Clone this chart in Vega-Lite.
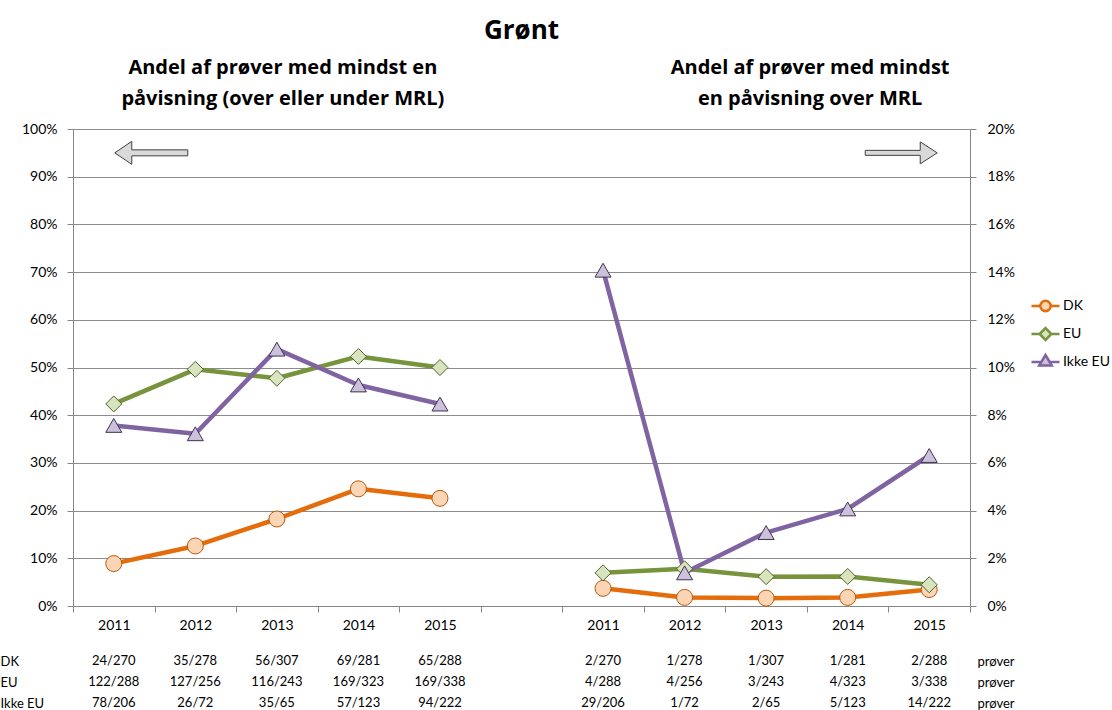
{
  "$schema": "https://vega.github.io/schema/vega-lite/v6.json",
  "background": "white",
  "padding": {"left": 0, "top": 18, "right": 0, "bottom": 0},
  "config": {
    "font": "Lato",
    "view": {"stroke": null},
    "axis": {"labelColor": "#000000", "labelFont": "Lato"},
    "legend": {"labelFont": "Lato", "labelColor": "#000000"}
  },
  "title": {"text": "Grønt", "fontSize": 26, "fontWeight": "bold", "anchor": "middle", "frame": "group", "offset": 13, "color": "#000000", "font": "Open Sans"},
  "datasets": {
    "venstre": [
      {"slot": "L2011", "series": "DK", "value": 0.0889},
      {"slot": "L2012", "series": "DK", "value": 0.1259},
      {"slot": "L2013", "series": "DK", "value": 0.1824},
      {"slot": "L2014", "series": "DK", "value": 0.2456},
      {"slot": "L2015", "series": "DK", "value": 0.2257},
      {"slot": "L2011", "series": "EU", "value": 0.4236},
      {"slot": "L2012", "series": "EU", "value": 0.4961},
      {"slot": "L2013", "series": "EU", "value": 0.4774},
      {"slot": "L2014", "series": "EU", "value": 0.5232},
      {"slot": "L2015", "series": "EU", "value": 0.5},
      {"slot": "L2011", "series": "Ikke EU", "value": 0.3786},
      {"slot": "L2012", "series": "Ikke EU", "value": 0.3611},
      {"slot": "L2013", "series": "Ikke EU", "value": 0.5385},
      {"slot": "L2014", "series": "Ikke EU", "value": 0.4634},
      {"slot": "L2015", "series": "Ikke EU", "value": 0.4234}
    ],
    "hoejre": [
      {"slot": "R2011", "series": "DK", "value": 0.0074},
      {"slot": "R2012", "series": "DK", "value": 0.0036},
      {"slot": "R2013", "series": "DK", "value": 0.0033},
      {"slot": "R2014", "series": "DK", "value": 0.0036},
      {"slot": "R2015", "series": "DK", "value": 0.0069},
      {"slot": "R2011", "series": "EU", "value": 0.0139},
      {"slot": "R2012", "series": "EU", "value": 0.0156},
      {"slot": "R2013", "series": "EU", "value": 0.0123},
      {"slot": "R2014", "series": "EU", "value": 0.0124},
      {"slot": "R2015", "series": "EU", "value": 0.0089},
      {"slot": "R2011", "series": "Ikke EU", "value": 0.1408},
      {"slot": "R2012", "series": "Ikke EU", "value": 0.0139},
      {"slot": "R2013", "series": "Ikke EU", "value": 0.0308},
      {"slot": "R2014", "series": "Ikke EU", "value": 0.0407},
      {"slot": "R2015", "series": "Ikke EU", "value": 0.0631}
    ],
    "tabel": [
      {"slot": "L2011", "row": "DK", "txt": "24/270"},
      {"slot": "L2012", "row": "DK", "txt": "35/278"},
      {"slot": "L2013", "row": "DK", "txt": "56/307"},
      {"slot": "L2014", "row": "DK", "txt": "69/281"},
      {"slot": "L2015", "row": "DK", "txt": "65/288"},
      {"slot": "R2011", "row": "DK", "txt": "2/270"},
      {"slot": "R2012", "row": "DK", "txt": "1/278"},
      {"slot": "R2013", "row": "DK", "txt": "1/307"},
      {"slot": "R2014", "row": "DK", "txt": "1/281"},
      {"slot": "R2015", "row": "DK", "txt": "2/288"},
      {"slot": "L2011", "row": "EU", "txt": "122/288"},
      {"slot": "L2012", "row": "EU", "txt": "127/256"},
      {"slot": "L2013", "row": "EU", "txt": "116/243"},
      {"slot": "L2014", "row": "EU", "txt": "169/323"},
      {"slot": "L2015", "row": "EU", "txt": "169/338"},
      {"slot": "R2011", "row": "EU", "txt": "4/288"},
      {"slot": "R2012", "row": "EU", "txt": "4/256"},
      {"slot": "R2013", "row": "EU", "txt": "3/243"},
      {"slot": "R2014", "row": "EU", "txt": "4/323"},
      {"slot": "R2015", "row": "EU", "txt": "3/338"},
      {"slot": "L2011", "row": "Ikke EU", "txt": "78/206"},
      {"slot": "L2012", "row": "Ikke EU", "txt": "26/72"},
      {"slot": "L2013", "row": "Ikke EU", "txt": "35/65"},
      {"slot": "L2014", "row": "Ikke EU", "txt": "57/123"},
      {"slot": "L2015", "row": "Ikke EU", "txt": "94/222"},
      {"slot": "R2011", "row": "Ikke EU", "txt": "29/206"},
      {"slot": "R2012", "row": "Ikke EU", "txt": "1/72"},
      {"slot": "R2013", "row": "Ikke EU", "txt": "2/65"},
      {"slot": "R2014", "row": "Ikke EU", "txt": "5/123"},
      {"slot": "R2015", "row": "Ikke EU", "txt": "14/222"}
    ]
  },
  "bounds": "flush",
  "spacing": 55,
  "vconcat": [
    {
      "width": 897,
      "height": 477,
      "resolve": {"scale": {"y": "independent"}},
      "layer": [
        {
          "data": {"name": "venstre"},
          "layer": [
            {
              "mark": {"type": "line", "strokeWidth": 4.5, "strokeJoin": "round"},
              "encoding": {
                "x": {"field": "slot", "type": "nominal", "sort": null, "scale": {"type": "band", "domain": ["L2011", "L2012", "L2013", "L2014", "L2015", "gap", "R2011", "R2012", "R2013", "R2014", "R2015"], "paddingInner": 0, "paddingOuter": 0}, "axis": {"orient": "bottom", "title": null, "labelExpr": "isString(datum.value) && datum.value != 'gap' ? substring(datum.value, 1) : ''", "labelAngle": 0, "tickBand": "extent", "ticks": true, "tickSize": 6, "tickColor": "#868686", "domainColor": "#868686", "labelFontSize": 14, "labelPadding": 6, "grid": false, "labelOverlap": false, "labelLimit": 0}},
                "y": {"field": "value", "type": "quantitative", "scale": {"domain": [0, 1], "nice": false}, "axis": {"orient": "left", "title": null, "values": [0, 0.1, 0.2, 0.3, 0.4, 0.5, 0.6, 0.7, 0.8, 0.9, 1], "format": ".0%", "grid": true, "gridColor": "#8c8c8c", "domainColor": "#868686", "tickColor": "#868686", "tickSize": 6, "labelPadding": 10, "labelFontSize": 14}},
                "color": {"field": "series", "type": "nominal", "scale": {"domain": ["DK", "EU", "Ikke EU"], "range": ["#e46c0a", "#77933c", "#8064a2"]}, "legend": {"title": null, "orient": "none", "legendX": 957, "legendY": 163, "symbolSize": 784, "clipHeight": 28, "labelFontSize": 14, "labelOffset": 2, "rowPadding": 0, "symbolStrokeWidth": 2.5}}
              }
            },
            {
              "transform": [{"filter": "datum.series === 'DK'"}],
              "mark": {"type": "point", "shape": "circle", "filled": true, "size": 256, "fill": "#fcd5b5", "stroke": "#b35a10", "strokeWidth": 1, "opacity": 1},
              "encoding": {
                "x": {"field": "slot", "type": "nominal", "sort": null, "scale": {"type": "band", "domain": ["L2011", "L2012", "L2013", "L2014", "L2015", "gap", "R2011", "R2012", "R2013", "R2014", "R2015"], "paddingInner": 0, "paddingOuter": 0}, "axis": {"orient": "bottom", "title": null, "labelExpr": "isString(datum.value) && datum.value != 'gap' ? substring(datum.value, 1) : ''", "labelAngle": 0, "tickBand": "extent", "ticks": true, "tickSize": 6, "tickColor": "#868686", "domainColor": "#868686", "labelFontSize": 14, "labelPadding": 6, "grid": false, "labelOverlap": false, "labelLimit": 0}},
                "y": {"field": "value", "type": "quantitative", "scale": {"domain": [0, 1], "nice": false}, "axis": {"orient": "left", "title": null, "values": [0, 0.1, 0.2, 0.3, 0.4, 0.5, 0.6, 0.7, 0.8, 0.9, 1], "format": ".0%", "grid": true, "gridColor": "#8c8c8c", "domainColor": "#868686", "tickColor": "#868686", "tickSize": 6, "labelPadding": 10, "labelFontSize": 14}}
              }
            },
            {
              "transform": [{"filter": "datum.series === 'EU'"}],
              "mark": {"type": "point", "shape": "diamond", "filled": true, "size": 256, "fill": "#d7e4bd", "stroke": "#4f6228", "strokeWidth": 1, "opacity": 1},
              "encoding": {
                "x": {"field": "slot", "type": "nominal", "sort": null, "scale": {"type": "band", "domain": ["L2011", "L2012", "L2013", "L2014", "L2015", "gap", "R2011", "R2012", "R2013", "R2014", "R2015"], "paddingInner": 0, "paddingOuter": 0}, "axis": {"orient": "bottom", "title": null, "labelExpr": "isString(datum.value) && datum.value != 'gap' ? substring(datum.value, 1) : ''", "labelAngle": 0, "tickBand": "extent", "ticks": true, "tickSize": 6, "tickColor": "#868686", "domainColor": "#868686", "labelFontSize": 14, "labelPadding": 6, "grid": false, "labelOverlap": false, "labelLimit": 0}},
                "y": {"field": "value", "type": "quantitative", "scale": {"domain": [0, 1], "nice": false}, "axis": {"orient": "left", "title": null, "values": [0, 0.1, 0.2, 0.3, 0.4, 0.5, 0.6, 0.7, 0.8, 0.9, 1], "format": ".0%", "grid": true, "gridColor": "#8c8c8c", "domainColor": "#868686", "tickColor": "#868686", "tickSize": 6, "labelPadding": 10, "labelFontSize": 14}}
              }
            },
            {
              "transform": [{"filter": "datum.series === 'Ikke EU'"}],
              "mark": {"type": "point", "shape": "triangle-up", "filled": true, "size": 256, "fill": "#ccc1da", "stroke": "#3f3151", "strokeWidth": 1, "opacity": 1},
              "encoding": {
                "x": {"field": "slot", "type": "nominal", "sort": null, "scale": {"type": "band", "domain": ["L2011", "L2012", "L2013", "L2014", "L2015", "gap", "R2011", "R2012", "R2013", "R2014", "R2015"], "paddingInner": 0, "paddingOuter": 0}, "axis": {"orient": "bottom", "title": null, "labelExpr": "isString(datum.value) && datum.value != 'gap' ? substring(datum.value, 1) : ''", "labelAngle": 0, "tickBand": "extent", "ticks": true, "tickSize": 6, "tickColor": "#868686", "domainColor": "#868686", "labelFontSize": 14, "labelPadding": 6, "grid": false, "labelOverlap": false, "labelLimit": 0}},
                "y": {"field": "value", "type": "quantitative", "scale": {"domain": [0, 1], "nice": false}, "axis": {"orient": "left", "title": null, "values": [0, 0.1, 0.2, 0.3, 0.4, 0.5, 0.6, 0.7, 0.8, 0.9, 1], "format": ".0%", "grid": true, "gridColor": "#8c8c8c", "domainColor": "#868686", "tickColor": "#868686", "tickSize": 6, "labelPadding": 10, "labelFontSize": 14}}
              }
            },
            {
              "data": {"values": [{"arrow": "venstre"}]},
              "mark": {"type": "point", "shape": "M1,0L18,-11.5L18,-3L74,-3L74,3L18,3L18,11.5Z", "size": 4, "filled": true, "fill": "#d9d9d9", "stroke": "#404040", "strokeWidth": 1, "opacity": 1},
              "encoding": {
                "x": {"datum": "L2011", "type": "nominal", "scale": {"type": "band", "domain": ["L2011", "L2012", "L2013", "L2014", "L2015", "gap", "R2011", "R2012", "R2013", "R2014", "R2015"], "paddingInner": 0, "paddingOuter": 0}, "axis": {"orient": "bottom", "title": null, "labelExpr": "isString(datum.value) && datum.value != 'gap' ? substring(datum.value, 1) : ''", "labelAngle": 0, "tickBand": "extent", "ticks": true, "tickSize": 6, "tickColor": "#868686", "domainColor": "#868686", "labelFontSize": 14, "labelPadding": 6, "grid": false, "labelOverlap": false, "labelLimit": 0}},
                "y": {"datum": 0.95, "type": "quantitative", "scale": {"domain": [0, 1], "nice": false}, "axis": {"orient": "left", "title": null, "values": [0, 0.1, 0.2, 0.3, 0.4, 0.5, 0.6, 0.7, 0.8, 0.9, 1], "format": ".0%", "grid": true, "gridColor": "#8c8c8c", "domainColor": "#868686", "tickColor": "#868686", "tickSize": 6, "labelPadding": 10, "labelFontSize": 14}}
              }
            }
          ]
        },
        {
          "data": {"name": "hoejre"},
          "layer": [
            {
              "mark": {"type": "line", "strokeWidth": 4.5, "strokeJoin": "round"},
              "encoding": {
                "x": {"field": "slot", "type": "nominal", "sort": null, "scale": {"type": "band", "domain": ["L2011", "L2012", "L2013", "L2014", "L2015", "gap", "R2011", "R2012", "R2013", "R2014", "R2015"], "paddingInner": 0, "paddingOuter": 0}, "axis": {"orient": "top", "title": null, "domain": false, "ticks": false, "grid": false, "labelAngle": 0, "labelFont": "Open Sans", "labelFontSize": 20, "labelFontWeight": "bold", "labelLineHeight": 31, "labelPadding": 52, "labelLimit": 0, "labelOverlap": false, "labelExpr": "datum.value == 'L2013' ? ['Andel af prøver med mindst en', 'påvisning (over eller under MRL)'] : datum.value == 'R2013' ? ['Andel af prøver med mindst', 'en påvisning over MRL'] : ''", "labelOffset": {"condition": {"test": "datum.value == 'R2013'", "value": 44}, "value": 6}}},
                "y": {"field": "value", "type": "quantitative", "scale": {"domain": [0, 0.2], "nice": false}, "axis": {"orient": "right", "title": null, "values": [0, 0.02, 0.04, 0.06, 0.08, 0.1, 0.12, 0.14, 0.16, 0.18, 0.2], "format": ".0%", "grid": false, "domainColor": "#868686", "tickColor": "#868686", "tickSize": 6, "labelPadding": 11, "labelFontSize": 14}},
                "color": {"field": "series", "type": "nominal", "scale": {"domain": ["DK", "EU", "Ikke EU"], "range": ["#e46c0a", "#77933c", "#8064a2"]}, "legend": {"title": null, "orient": "none", "legendX": 957, "legendY": 163, "symbolSize": 784, "clipHeight": 28, "labelFontSize": 14, "labelOffset": 2, "rowPadding": 0, "symbolStrokeWidth": 2.5}}
              }
            },
            {
              "transform": [{"filter": "datum.series === 'DK'"}],
              "mark": {"type": "point", "shape": "circle", "filled": true, "size": 256, "fill": "#fcd5b5", "stroke": "#b35a10", "strokeWidth": 1, "opacity": 1},
              "encoding": {
                "x": {"field": "slot", "type": "nominal", "sort": null, "scale": {"type": "band", "domain": ["L2011", "L2012", "L2013", "L2014", "L2015", "gap", "R2011", "R2012", "R2013", "R2014", "R2015"], "paddingInner": 0, "paddingOuter": 0}, "axis": {"orient": "top", "title": null, "domain": false, "ticks": false, "grid": false, "labelAngle": 0, "labelFont": "Open Sans", "labelFontSize": 20, "labelFontWeight": "bold", "labelLineHeight": 31, "labelPadding": 52, "labelLimit": 0, "labelOverlap": false, "labelExpr": "datum.value == 'L2013' ? ['Andel af prøver med mindst en', 'påvisning (over eller under MRL)'] : datum.value == 'R2013' ? ['Andel af prøver med mindst', 'en påvisning over MRL'] : ''", "labelOffset": {"condition": {"test": "datum.value == 'R2013'", "value": 44}, "value": 6}}},
                "y": {"field": "value", "type": "quantitative", "scale": {"domain": [0, 0.2], "nice": false}, "axis": {"orient": "right", "title": null, "values": [0, 0.02, 0.04, 0.06, 0.08, 0.1, 0.12, 0.14, 0.16, 0.18, 0.2], "format": ".0%", "grid": false, "domainColor": "#868686", "tickColor": "#868686", "tickSize": 6, "labelPadding": 11, "labelFontSize": 14}}
              }
            },
            {
              "transform": [{"filter": "datum.series === 'EU'"}],
              "mark": {"type": "point", "shape": "diamond", "filled": true, "size": 256, "fill": "#d7e4bd", "stroke": "#4f6228", "strokeWidth": 1, "opacity": 1},
              "encoding": {
                "x": {"field": "slot", "type": "nominal", "sort": null, "scale": {"type": "band", "domain": ["L2011", "L2012", "L2013", "L2014", "L2015", "gap", "R2011", "R2012", "R2013", "R2014", "R2015"], "paddingInner": 0, "paddingOuter": 0}, "axis": {"orient": "top", "title": null, "domain": false, "ticks": false, "grid": false, "labelAngle": 0, "labelFont": "Open Sans", "labelFontSize": 20, "labelFontWeight": "bold", "labelLineHeight": 31, "labelPadding": 52, "labelLimit": 0, "labelOverlap": false, "labelExpr": "datum.value == 'L2013' ? ['Andel af prøver med mindst en', 'påvisning (over eller under MRL)'] : datum.value == 'R2013' ? ['Andel af prøver med mindst', 'en påvisning over MRL'] : ''", "labelOffset": {"condition": {"test": "datum.value == 'R2013'", "value": 44}, "value": 6}}},
                "y": {"field": "value", "type": "quantitative", "scale": {"domain": [0, 0.2], "nice": false}, "axis": {"orient": "right", "title": null, "values": [0, 0.02, 0.04, 0.06, 0.08, 0.1, 0.12, 0.14, 0.16, 0.18, 0.2], "format": ".0%", "grid": false, "domainColor": "#868686", "tickColor": "#868686", "tickSize": 6, "labelPadding": 11, "labelFontSize": 14}}
              }
            },
            {
              "transform": [{"filter": "datum.series === 'Ikke EU'"}],
              "mark": {"type": "point", "shape": "triangle-up", "filled": true, "size": 256, "fill": "#ccc1da", "stroke": "#3f3151", "strokeWidth": 1, "opacity": 1},
              "encoding": {
                "x": {"field": "slot", "type": "nominal", "sort": null, "scale": {"type": "band", "domain": ["L2011", "L2012", "L2013", "L2014", "L2015", "gap", "R2011", "R2012", "R2013", "R2014", "R2015"], "paddingInner": 0, "paddingOuter": 0}, "axis": {"orient": "top", "title": null, "domain": false, "ticks": false, "grid": false, "labelAngle": 0, "labelFont": "Open Sans", "labelFontSize": 20, "labelFontWeight": "bold", "labelLineHeight": 31, "labelPadding": 52, "labelLimit": 0, "labelOverlap": false, "labelExpr": "datum.value == 'L2013' ? ['Andel af prøver med mindst en', 'påvisning (over eller under MRL)'] : datum.value == 'R2013' ? ['Andel af prøver med mindst', 'en påvisning over MRL'] : ''", "labelOffset": {"condition": {"test": "datum.value == 'R2013'", "value": 44}, "value": 6}}},
                "y": {"field": "value", "type": "quantitative", "scale": {"domain": [0, 0.2], "nice": false}, "axis": {"orient": "right", "title": null, "values": [0, 0.02, 0.04, 0.06, 0.08, 0.1, 0.12, 0.14, 0.16, 0.18, 0.2], "format": ".0%", "grid": false, "domainColor": "#868686", "tickColor": "#868686", "tickSize": 6, "labelPadding": 11, "labelFontSize": 14}}
              }
            },
            {
              "transform": [{"filter": "datum.series === 'ingen'"}],
              "mark": {"type": "point", "filled": true, "opacity": 1},
              "encoding": {
                "x": {"field": "slot", "type": "nominal", "sort": null, "scale": {"type": "band", "domain": ["L2011", "L2012", "L2013", "L2014", "L2015", "gap", "R2011", "R2012", "R2013", "R2014", "R2015"], "paddingInner": 0, "paddingOuter": 0}, "axis": {"orient": "top", "title": null, "domain": false, "ticks": false, "grid": false, "labelAngle": 0, "labelFont": "Open Sans", "labelFontSize": 20, "labelFontWeight": "bold", "labelLineHeight": 31, "labelPadding": 52, "labelLimit": 0, "labelOverlap": false, "labelExpr": "datum.value == 'L2013' ? ['Andel af prøver med mindst en', 'påvisning (over eller under MRL)'] : datum.value == 'R2013' ? ['Andel af prøver med mindst', 'en påvisning over MRL'] : ''", "labelOffset": {"condition": {"test": "datum.value == 'R2013'", "value": 44}, "value": 6}}},
                "y": {"field": "value", "type": "quantitative", "scale": {"domain": [0, 0.2], "nice": false}, "axis": {"orient": "right", "title": null, "values": [0, 0.02, 0.04, 0.06, 0.08, 0.1, 0.12, 0.14, 0.16, 0.18, 0.2], "format": ".0%", "grid": false, "domainColor": "#868686", "tickColor": "#868686", "tickSize": 6, "labelPadding": 11, "labelFontSize": 14}},
                "shape": {"field": "series", "type": "nominal", "scale": {"domain": ["DK", "EU", "Ikke EU"], "range": ["M-1,0H-0.37M0.37,0H1M-0.37,0A0.37,0.37,0,1,1,0.37,0A0.37,0.37,0,1,1,-0.37,0Z", "M-1,0H-0.42M0.42,0H1M0,-0.42L0.42,0L0,0.42L-0.42,0Z", "M-1,0H-0.3M0.3,0H1M0,-0.5L0.45,0.25L-0.45,0.25Z"]}, "legend": {"title": null, "orient": "none", "legendX": 957, "legendY": 163, "symbolSize": 784, "clipHeight": 28, "labelFontSize": 14, "labelOffset": 2, "rowPadding": 0, "symbolStrokeWidth": 2.5}},
                "fill": {"field": "series", "type": "nominal", "scale": {"domain": ["DK", "EU", "Ikke EU"], "range": ["#fcd5b5", "#d7e4bd", "#ccc1da"]}, "legend": {"title": null, "orient": "none", "legendX": 957, "legendY": 163, "symbolSize": 784, "clipHeight": 28, "labelFontSize": 14, "labelOffset": 2, "rowPadding": 0, "symbolStrokeWidth": 2.5}}
              }
            },
            {
              "data": {"values": [{"arrow": "hoejre"}]},
              "mark": {"type": "point", "shape": "M-64,-2.5L-9,-2.5L-9,-11L8,0L-9,11L-9,2.5L-64,2.5Z", "size": 4, "filled": true, "fill": "#d9d9d9", "stroke": "#404040", "strokeWidth": 1, "opacity": 1},
              "encoding": {
                "x": {"datum": "R2015", "type": "nominal", "scale": {"type": "band", "domain": ["L2011", "L2012", "L2013", "L2014", "L2015", "gap", "R2011", "R2012", "R2013", "R2014", "R2015"], "paddingInner": 0, "paddingOuter": 0}, "axis": {"orient": "top", "title": null, "domain": false, "ticks": false, "grid": false, "labelAngle": 0, "labelFont": "Open Sans", "labelFontSize": 20, "labelFontWeight": "bold", "labelLineHeight": 31, "labelPadding": 52, "labelLimit": 0, "labelOverlap": false, "labelExpr": "datum.value == 'L2013' ? ['Andel af prøver med mindst en', 'påvisning (over eller under MRL)'] : datum.value == 'R2013' ? ['Andel af prøver med mindst', 'en påvisning over MRL'] : ''", "labelOffset": {"condition": {"test": "datum.value == 'R2013'", "value": 44}, "value": 6}}},
                "y": {"datum": 0.19, "type": "quantitative", "scale": {"domain": [0, 0.2], "nice": false}, "axis": {"orient": "right", "title": null, "values": [0, 0.02, 0.04, 0.06, 0.08, 0.1, 0.12, 0.14, 0.16, 0.18, 0.2], "format": ".0%", "grid": false, "domainColor": "#868686", "tickColor": "#868686", "tickSize": 6, "labelPadding": 11, "labelFontSize": 14}}
              }
            }
          ]
        }
      ]
    },
    {
      "width": 897,
      "height": 42,
      "data": {"name": "tabel"},
      "resolve": {"axis": {"y": "independent"}},
      "layer": [
        {
          "mark": {"type": "text", "fontSize": 13, "color": "#000000", "font": "Lato"},
          "encoding": {
            "x": {"field": "slot", "type": "nominal", "sort": null, "scale": {"type": "band", "domain": ["L2011", "L2012", "L2013", "L2014", "L2015", "gap", "R2011", "R2012", "R2013", "R2014", "R2015"], "paddingInner": 0, "paddingOuter": 0}, "axis": null},
            "y": {"field": "row", "type": "nominal", "sort": null, "scale": {"type": "point", "domain": ["DK", "EU", "Ikke EU"], "padding": 0}, "axis": {"orient": "left", "title": null, "domain": false, "ticks": false, "grid": false, "labelAlign": "left", "labelPadding": 73, "labelFontSize": 13, "labelLimit": 0}},
            "text": {"field": "txt", "type": "nominal"}
          }
        },
        {
          "mark": {"type": "text", "fontSize": 13, "opacity": 0},
          "encoding": {
            "x": {"field": "slot", "type": "nominal", "sort": null, "scale": {"type": "band", "domain": ["L2011", "L2012", "L2013", "L2014", "L2015", "gap", "R2011", "R2012", "R2013", "R2014", "R2015"], "paddingInner": 0, "paddingOuter": 0}, "axis": null},
            "y": {"field": "row", "type": "nominal", "sort": null, "scale": {"type": "point", "domain": ["DK", "EU", "Ikke EU"], "padding": 0}, "axis": {"orient": "right", "title": null, "domain": false, "ticks": false, "grid": false, "labelExpr": "'prøver'", "labelPadding": 7, "labelFontSize": 13}},
            "text": {"field": "txt", "type": "nominal"}
          }
        }
      ]
    }
  ]
}
